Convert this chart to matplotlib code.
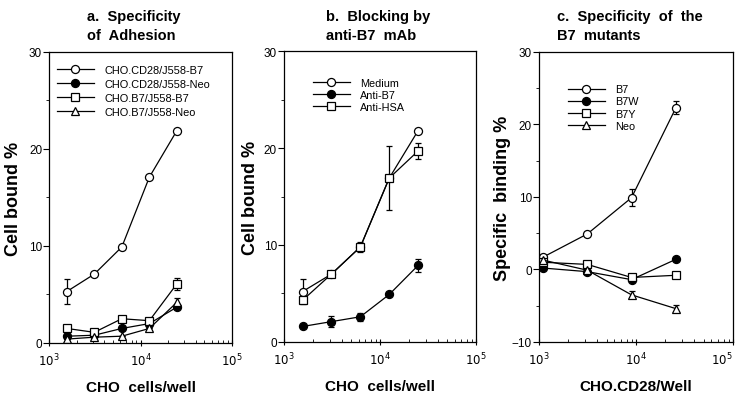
import matplotlib.pyplot as plt
import numpy as np
from matplotlib.ticker import LogLocator, MultipleLocator

plt.rcParams['font.family'] = ['Liberation Sans', 'DejaVu Sans']

# panel a: specificity of adhesion
x_a = [1562, 3125, 6250, 12500, 25000]
a_cd28_b7 = [5.3, 7.1, 9.9, 17.1, 21.9]
a_cd28_b7_err = [1.3, 0, 0, 0, 0]
a_cd28_neo = [0.7, 0.8, 1.5, 2.0, 3.7]
a_b7_b7 = [1.5, 1.1, 2.5, 2.3, 6.1]
a_b7_b7_err = [0, 0, 0, 0, 0.6]
a_b7_neo = [0.4, 0.6, 0.7, 1.5, 4.2]
a_b7_neo_err = [0, 0, 0, 0, 0.4]

# panel b: blocking by anti-B7 mAb
x_b = [1562, 3125, 6250, 12500, 25000]
b_medium = [5.2, 7.0, 9.8, 16.9, 21.8]
b_medium_err = [1.3, 0, 0, 0, 0]
b_anti_b7 = [1.6, 2.1, 2.6, 4.9, 7.9]
b_anti_b7_err = [0, 0.6, 0.4, 0, 0.7]
b_anti_hsa = [4.3, 7.0, 9.8, 16.9, 19.7]
b_anti_hsa_err = [0, 0, 0.5, 3.3, 0.8]

# panel c: specificity of the B7 mutants
x_c = [1100, 3150, 9000, 25800]
c_b7 = [1.7, 4.9, 9.9, 22.3]
c_b7_err = [0, 0, 1.2, 0.9]
c_b7w = [0.2, -0.3, -1.4, 1.4]
c_b7y = [1.0, 0.7, -1.1, -0.8]
c_neo = [1.3, -0.1, -3.5, -5.4]
c_neo_err = [0, 0, 0.5, 0.5]

x_ticks = [1e3, 1e4, 1e5]
x_ticklabels = ['$10^3$', '$10^4$', '$10^5$']

fig = plt.figure(figsize=(7.37, 4.02), dpi=100)

ax_a = fig.add_axes([0.0665, 0.1443, 0.2483, 0.7239])
ax_b = fig.add_axes([0.3853, 0.1468, 0.2605, 0.7238])
ax_c = fig.add_axes([0.7313, 0.1468, 0.2632, 0.7214])


def draw(ax, x, y, marker, filled, label, err=None):
    fc = 'black' if filled else 'white'
    ax.errorbar(x, y, yerr=err, color='black', lw=0.9, marker=marker,
                ms=5.8, mfc=fc, mec='black', mew=0.9, capsize=2,
                elinewidth=0.9, label=label)


def style(ax, ylim, ylabel, xlabel, title, tx, ylab_x):
    ax.set_xscale('log')
    ax.set_xlim(1e3, 1e5)
    ax.set_ylim(*ylim)
    ax.yaxis.set_major_locator(MultipleLocator(10))
    ax.yaxis.set_minor_locator(MultipleLocator(5))
    ax.set_xticks(x_ticks, x_ticklabels)
    ax.xaxis.set_minor_locator(LogLocator(base=10, subs=np.arange(2, 10)))
    ax.tick_params(axis='y', which='major', direction='out', length=4,
                   labelsize=8.5, pad=1)
    ax.tick_params(axis='y', which='minor', direction='out', length=2)
    ax.tick_params(axis='x', which='major', direction='inout', length=5,
                   labelsize=8.5, pad=4)
    ax.tick_params(axis='x', which='minor', direction='in', length=2.5)
    for s in ax.spines.values():
        s.set_linewidth(0.9)
    ax.set_ylabel(ylabel, fontsize=13, fontweight='bold')
    ax.yaxis.set_label_coords(ylab_x, 0.5)
    ax.set_xlabel(xlabel, fontsize=11, fontweight='bold', labelpad=8)
    fig.text(tx, 0.975, title, fontsize=10.5, fontweight='bold',
             va='top', ha='left', linespacing=1.45)


draw(ax_a, x_a, a_cd28_b7, 'o', False, 'CHO.CD28/J558-B7', a_cd28_b7_err)
draw(ax_a, x_a, a_cd28_neo, 'o', True, 'CHO.CD28/J558-Neo')
draw(ax_a, x_a, a_b7_b7, 's', False, 'CHO.B7/J558-B7', a_b7_b7_err)
draw(ax_a, x_a, a_b7_neo, '^', False, 'CHO.B7/J558-Neo', a_b7_neo_err)
style(ax_a, (0, 30), 'Cell bound %', 'CHO  cells/well',
      'a.  Specificity\nof  Adhesion', 0.118, -0.15)

draw(ax_b, x_b, b_medium, 'o', False, 'Medium', b_medium_err)
draw(ax_b, x_b, b_anti_b7, 'o', True, 'Anti-B7', b_anti_b7_err)
draw(ax_b, x_b, b_anti_hsa, 's', False, 'Anti-HSA', b_anti_hsa_err)
style(ax_b, (0, 30), 'Cell bound %', 'CHO  cells/well',
      'b.  Blocking by\nanti-B7  mAb', 0.442, -0.13)

draw(ax_c, x_c, c_b7, 'o', False, 'B7', c_b7_err)
draw(ax_c, x_c, c_b7w, 'o', True, 'B7W')
draw(ax_c, x_c, c_b7y, 's', False, 'B7Y')
draw(ax_c, x_c, c_neo, '^', False, 'Neo', c_neo_err)
style(ax_c, (-10, 30), 'Specific  binding %', 'CHO.CD28/Well',
      'c.  Specificity  of  the\nB7  mutants', 0.756, -0.145)
# last label sits at the right edge of the figure
ax_c.get_xticklabels()[-1].set_horizontalalignment('right')

legend_opts = [
    (ax_a, (0.0, 0.983), 7.9, 0.38),
    (ax_b, (0.11, 0.935), 7.8, 0.2),
    (ax_c, (0.11, 0.915), 7.8, 0.2),
]
for ax, anchor, fs, sp in legend_opts:
    h, l = ax.get_legend_handles_labels()
    h = [x[0] for x in h]
    ax.legend(h, l, loc='upper left', bbox_to_anchor=anchor, frameon=False,
              fontsize=fs, handlelength=3.4, handletextpad=1.0,
              labelspacing=sp, borderaxespad=0.3, handleheight=0.6)

fig.savefig('out.png', dpi=100)
